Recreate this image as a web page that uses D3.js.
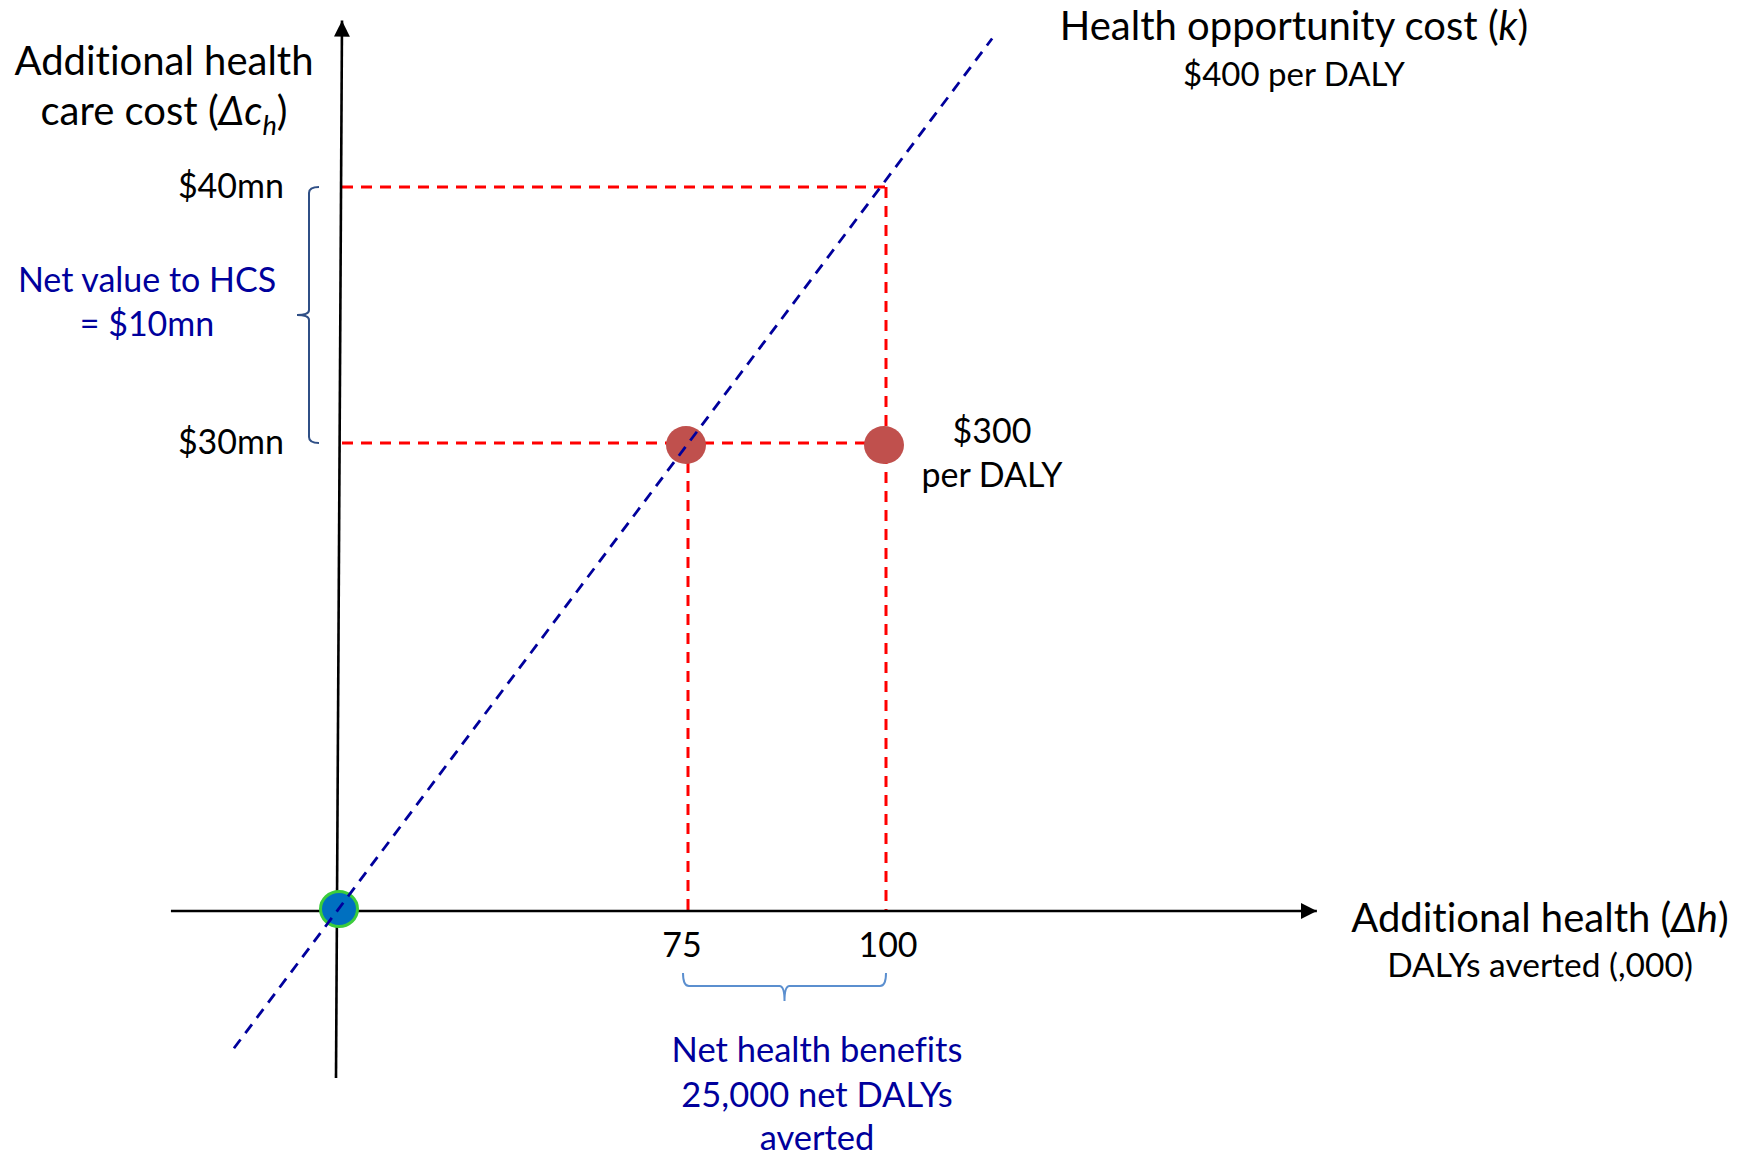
<!DOCTYPE html>
<html>
<head>
<meta charset="utf-8">
<script src="https://cdn.jsdelivr.net/npm/d3@7/dist/d3.min.js"></script>
<style>
  html, body { margin: 0; padding: 0; background: #fff; }
  svg { display: block; }
  text { font-family: "Lato", "Carlito", "Liberation Sans", sans-serif; font-variant-ligatures: none; }
</style>
</head>
<body>
<svg id="chart" width="1750" height="1157"></svg>
<script>
// Additional health (thousand DALYs averted) and additional cost ($mn)
const hTicks = [75, 100];
const hTickLabels = ["75", "100"];
const costTicks = [30, 40];
const costTickLabels = ["$30mn", "$40mn"];

// Axis extents in data units
const hExtent = [-35.8, 154.4];
const costExtent = [-10.7, 46.5];

// Health opportunity cost line, k = $400 per DALY
const kLineH = [-22.3, 113.4];
const kLineCost = [-8.8, 45.8];

// Interventions: cost $30mn, health gained 75k (at threshold) and 100k ($300 per DALY)
const pointH = [75, 100];
const pointCost = [30, 30];

// Dashed guide lines (from -> to) in data units
const guideFromH = [0, 100, 0, 75];
const guideFromCost = [40, 40, 30, 30];
const guideToH = [100, 100, 100, 75];
const guideToCost = [40, 0, 30, 0];

// Net benefit brackets
const netHealthRange = [75, 100];
const netValueRange = [30, 40];

const svg = d3.select("#chart");

// The schematic is not to scale, so both scales are piecewise linear
const x = d3.scaleLinear().domain([0, 75, 100]).range([338, 688, 886]);
const y = d3.scaleLinear().domain([0, 30, 40]).range([911, 443, 187]);

// Arrow markers
const defs = svg.append("defs");
defs.append("marker")
  .attr("id", "arrow")
  .attr("viewBox", "0 0 10 10")
  .attr("refX", 10).attr("refY", 5)
  .attr("markerUnits", "userSpaceOnUse")
  .attr("markerWidth", 16).attr("markerHeight", 16)
  .attr("orient", "auto")
  .append("path")
  .attr("d", "M0,0 L10,5 L0,10 Z")
  .attr("fill", "#000");

// Red dashed guides
const guides = d3.range(guideFromH.length).map(i => ({
  x1: x(guideFromH[i]), y1: y(guideFromCost[i]),
  x2: x(guideToH[i]), y2: y(guideToCost[i])
}));
svg.append("g").selectAll("line").data(guides).join("line")
  .attr("x1", d => d.x1 + (d.x1 === x(0) ? 4 : 0))
  .attr("y1", d => d.y1)
  .attr("x2", d => d.x2)
  .attr("y2", d => d.y2)
  .attr("stroke", "#ff0000")
  .attr("stroke-width", 3)
  .attr("stroke-dasharray", "11,8");

// Axes
svg.append("line")
  .attr("x1", x(hExtent[0])).attr("y1", y(0))
  .attr("x2", x(hExtent[1])).attr("y2", y(0))
  .attr("stroke", "#000").attr("stroke-width", 2.6)
  .attr("marker-end", "url(#arrow)");
svg.append("line")
  .attr("x1", x(0) - 2).attr("y1", y(costExtent[0]))
  .attr("x2", x(0) + 4).attr("y2", y(costExtent[1]))
  .attr("stroke", "#000").attr("stroke-width", 2.6)
  .attr("marker-end", "url(#arrow)");

// Intervention points
svg.append("g").selectAll("ellipse").data(pointH).join("ellipse")
  .attr("cx", d => x(d) - 2)
  .attr("cy", (d, i) => y(pointCost[i]) + 2)
  .attr("rx", 20).attr("ry", 19)
  .attr("fill", "#c0504d");

// Origin point
svg.append("ellipse")
  .attr("cx", x(0) + 1).attr("cy", y(0) - 2)
  .attr("rx", 18.5).attr("ry", 17.5)
  .attr("fill", "#0070c0")
  .attr("stroke", "#3ccc3c").attr("stroke-width", 3);

// Health opportunity cost line
svg.append("line")
  .attr("x1", x(kLineH[0])).attr("y1", y(kLineCost[0]))
  .attr("x2", x(kLineH[1])).attr("y2", y(kLineCost[1]))
  .attr("stroke", "#00009c")
  .attr("stroke-width", 2.8)
  .attr("stroke-dasharray", "11,8");

// Brace along the cost axis (net value to the health care system)
{
  const bx = x(0) - 29, top = y(netValueRange[1]), bot = y(netValueRange[0]);
  const mid = (top + bot) / 2;
  const p = d3.path();
  p.moveTo(bx + 10, top);
  p.quadraticCurveTo(bx, top, bx, top + 6);
  p.lineTo(bx, mid - 5);
  p.quadraticCurveTo(bx, mid, bx - 12, mid);
  p.quadraticCurveTo(bx, mid, bx, mid + 5);
  p.lineTo(bx, bot - 6);
  p.quadraticCurveTo(bx, bot, bx + 10, bot);
  svg.append("path").attr("d", p.toString())
    .attr("fill", "none").attr("stroke", "#2f4f86").attr("stroke-width", 2);
}

// Brace under the health axis (net health benefits)
{
  const by = 986, lx = x(netHealthRange[0]) - 5, rx = x(netHealthRange[1]);
  const mx = (lx + rx) / 2;
  const p = d3.path();
  p.moveTo(lx, by - 13);
  p.quadraticCurveTo(lx, by, lx + 6, by);
  p.lineTo(mx - 5, by);
  p.quadraticCurveTo(mx, by, mx, by + 15);
  p.quadraticCurveTo(mx, by, mx + 5, by);
  p.lineTo(rx - 6, by);
  p.quadraticCurveTo(rx, by, rx, by - 13);
  svg.append("path").attr("d", p.toString())
    .attr("fill", "none").attr("stroke", "#5b8fcf").attr("stroke-width", 2);
}

// Tick labels
svg.append("g").selectAll("text").data(hTicks).join("text")
  .attr("x", (d, i) => x(d) + (i === 0 ? -6 : 2))
  .attr("y", 957)
  .attr("text-anchor", "middle")
  .attr("font-size", 34)
  .attr("fill", "#000")
  .text((d, i) => hTickLabels[i]);

svg.append("g").selectAll("text").data(costTicks).join("text")
  .attr("x", 284)
  .attr("y", d => y(d) + 11)
  .attr("text-anchor", "end")
  .attr("font-size", 34)
  .attr("fill", "#000")
  .text((d, i) => costTickLabels[i]);

// Helper for multi-line centred labels (one font size per line)
function label(lines, cx, baselines, sizes, color) {
  const g = svg.append("g");
  lines.forEach((ln, i) => {
    const size = sizes[i];
    const t = g.append("text")
      .attr("x", cx).attr("y", baselines[i])
      .attr("text-anchor", "middle")
      .attr("font-size", size)
      .attr("fill", color);
    ln.forEach(part => {
      const s = t.append("tspan").text(part.t);
      if (part.i) s.attr("font-style", "italic");
      if (part.sub) s.attr("font-size", size * 0.68).attr("dy", 10);
      if (part.up) s.attr("dy", -10);
    });
  });
}

// Cost axis title
label([
  [{t: "Additional health"}],
  [{t: "care cost ("}, {t: "Δc", i: true}, {t: "h", i: true, sub: true}, {t: ")", up: true}]
], 164, [75, 125], [40, 40], "#000");

// Health axis title
label([
  [{t: "Additional health ("}, {t: "Δh", i: true}, {t: ")"}],
  [{t: "DALYs averted (,000)"}]
], 1540, [932, 977], [40, 33.5], "#000");

// Threshold line title
label([
  [{t: "Health opportunity cost ("}, {t: "k", i: true}, {t: ")"}],
  [{t: "$400 per DALY"}]
], 1294, [40, 86], [40, 33], "#000");

// Intervention ICER
label([
  [{t: "$300"}],
  [{t: "per DALY"}]
], 992, [443, 487], [34, 34], "#000");

// Net value annotation
label([
  [{t: "Net value to HCS"}],
  [{t: "= $10mn"}]
], 147, [292, 336], [34, 34], "#00009c");

// Net health benefit annotation
label([
  [{t: "Net health benefits"}],
  [{t: "25,000 net DALYs"}],
  [{t: "averted"}]
], 817, [1062, 1107, 1150], [34.5, 34.5, 34.5], "#00009c");
</script>
</body>
</html>
